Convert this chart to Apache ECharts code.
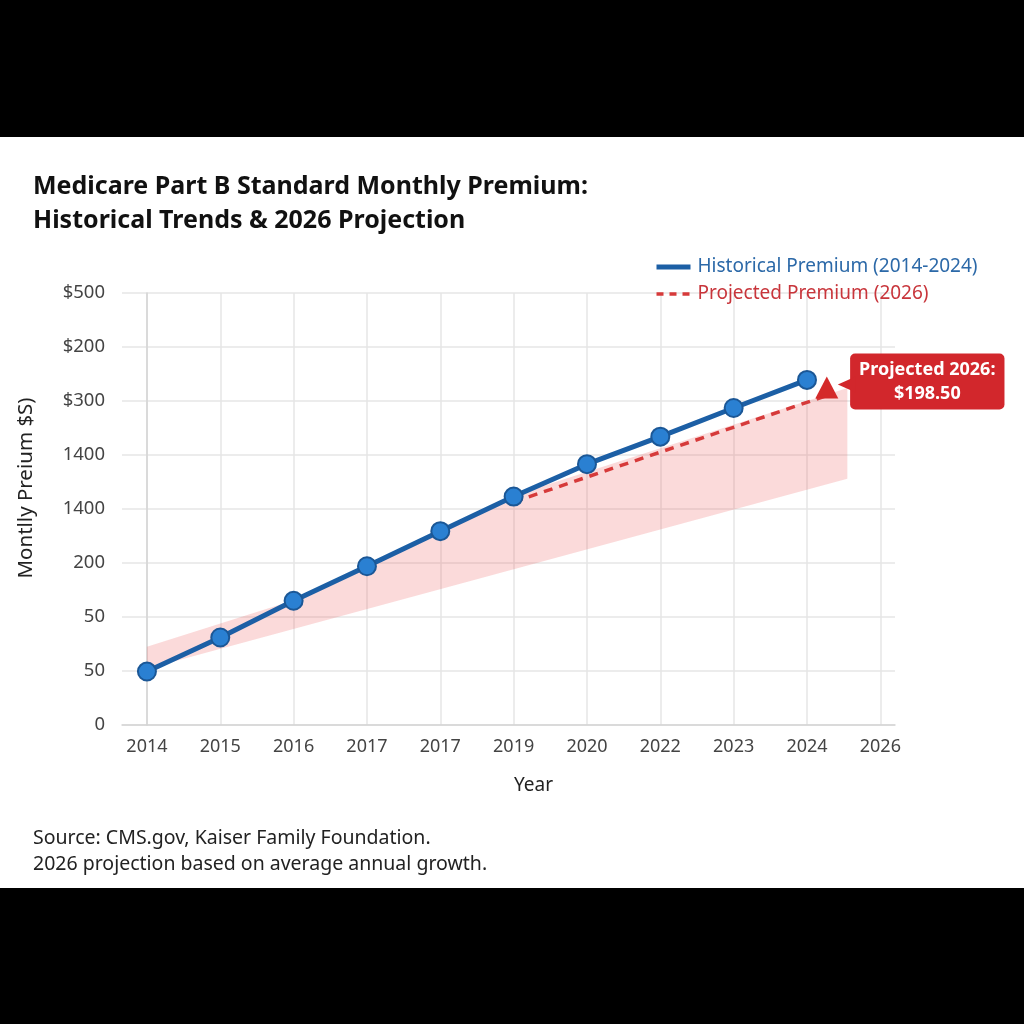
<!DOCTYPE html>
<html>
<head>
<meta charset="utf-8">
<script src="https://cdn.jsdelivr.net/npm/echarts@6/dist/echarts.min.js"></script>
<style>
  html, body { margin: 0; padding: 0; background: #000; }
  #chart { position: absolute; left: 0; top: 137px; width: 1024px; height: 751px; background: #fff; }
</style>
</head>
<body>
<div id="chart"></div>
<script>
// tick labels, as printed on the chart
var years = ['2014', '2015', '2016', '2017', '2017', '2019', '2020', '2022', '2023', '2024', '2026'];
var yLabels = ['0', '50', '50', '200', '1400', '1400', '$300', '$200', '$500'];

// values in gridline units (one unit = one y gridline), x = year slot
var historical = [[0, 0.99], [1, 1.62], [2, 2.30], [3, 2.94], [4, 3.59], [5, 4.23], [6, 4.83], [7, 5.34], [8, 5.87], [9, 6.39]];
var projected = [[5, 4.13], [9.27, 6.1]];
var projectedPoint = [[9.27, 6.25]];
var bandUpper = [[0, 1.45], [2.1, 2.35], [3, 2.94], [4, 3.59], [5, 4.25], [9.55, 6.24]];
var bandLower = [[0, 1.04], [9.55, 4.56]];

var tickIdx = years.map(function (y, i) { return i; });

var myChart = echarts.init(document.getElementById('chart'));

myChart.setOption({
	backgroundColor: '#fff',
	textStyle: { fontFamily: 'Noto Sans' },
	title: [{
		text: 'Medicare Part B Standard Monthly Premium:\nHistorical Trends & 2026 Projection',
		left: 28,
		top: 28,
		textStyle: { fontFamily: 'Noto Sans', fontWeight: 'bold', fontSize: 25, lineHeight: 34, color: '#111' }
	}, {
		text: 'Source: CMS.gov, Kaiser Family Foundation.\n2026 projection based on average annual growth.',
		left: 28,
		top: 683,
		textStyle: { fontFamily: 'Noto Sans', fontWeight: 'normal', fontSize: 19.5, lineHeight: 26, color: '#222' }
	}],
	legend: {
		orient: 'vertical',
		left: 654,
		top: 120,
		padding: 0,
		itemWidth: 34,
		itemHeight: 14,
		itemGap: 7,
		itemStyle: { color: 'rgba(0,0,0,0)', borderWidth: 0 },
		textStyle: { fontSize: 19, lineHeight: 20, padding: [0, 0, 0, 2] },
		data: [
			{ name: 'Historical Premium (2014-2024)', textStyle: { color: '#2c69a8' }, lineStyle: { width: 5 } },
			{ name: 'Projected Premium (2026)', textStyle: { color: '#c8353b' }, lineStyle: { width: 3.5, type: [7, 6] } }
		]
	},
	grid: { left: 122, right: 129, top: 156, bottom: 163 },
	xAxis: {
		type: 'value',
		min: -0.34,
		max: 10.2,
		name: 'Year',
		nameLocation: 'middle',
		nameGap: 51,
		nameTextStyle: { fontSize: 19, color: '#222', padding: [0, 0, 0, 50] },
		axisLine: { show: true, lineStyle: { color: '#d4d4d4', width: 1.5 } },
		axisTick: { show: false, customValues: tickIdx },
		axisLabel: {
			customValues: tickIdx,
			formatter: function (v) { return years[v]; },
			fontSize: 18,
			color: '#444',
			margin: 13
		},
		splitLine: { show: true, lineStyle: { color: '#e6e6e6', width: 1.5 } }
	},
	yAxis: {
		type: 'value',
		min: 0,
		max: 8,
		interval: 1,
		name: 'Montlly Preium $S)',
		nameLocation: 'middle',
		nameGap: 85,
		nameTextStyle: { fontSize: 20.5, color: '#222', padding: [0, 0, 0, 42] },
		axisLine: { show: true, lineStyle: { color: '#d4d4d4', width: 1.5 } },
		axisTick: { show: false },
		axisLabel: {
			formatter: function (v) { return yLabels[v]; },
			fontSize: 18.5,
			color: '#444',
			margin: 17
		},
		splitLine: { show: true, lineStyle: { color: '#e6e6e6', width: 1.5 } }
	},
	series: [{
		type: 'custom',
		name: 'band',
		z: 1,
		silent: true,
		data: [0],
		renderItem: function (params, api) {
			if (params.dataIndex !== 0) return null;
			var pts = bandUpper.map(function (p) { return api.coord(p); });
			bandLower.slice().reverse().forEach(function (p) { pts.push(api.coord(p)); });
			return {
				type: 'polygon',
				shape: { points: pts },
				style: { fill: 'rgba(238,100,100,0.24)' }
			};
		}
	}, {
		type: 'line',
		name: 'Projected Premium (2026)',
		z: 2,
		data: projected,
		symbol: 'none',
		lineStyle: { color: '#d63a3a', width: 3.5, type: [9, 7] },
		itemStyle: { color: '#d63a3a' }
	}, {
		type: 'line',
		name: 'Historical Premium (2014-2024)',
		z: 3,
		data: historical,
		symbol: 'circle',
		symbolSize: 18,
		lineStyle: { color: '#1c5fa5', width: 5 },
		itemStyle: { color: '#2a80d2', borderColor: '#1b5796', borderWidth: 2 }
	}, {
		type: 'scatter',
		name: 'proj-point',
		z: 4,
		data: projectedPoint,
		symbol: 'triangle',
		symbolSize: [23, 22],
		itemStyle: { color: '#d42a2a', opacity: 1 },
		label: {
			show: true,
			position: 'right',
			distance: 89,
			offset: [0, -6],
			formatter: 'Projected 2026:\n$198.50',
			backgroundColor: '#d2272c',
			borderRadius: 5,
			padding: [4, 9],
			color: '#fff',
			fontWeight: 'bold',
			fontSize: 18,
			lineHeight: 24,
			align: 'center'
		},
		markPoint: {
			silent: true,
			symbol: 'triangle',
			symbolRotate: 90,
			symbolSize: [16, 18],
			symbolOffset: [20, -3],
			itemStyle: { color: '#d2272c' },
			label: { show: false },
			data: [{ coord: projectedPoint[0] }]
		}
	}]
});
window.addEventListener('resize', function () {
	myChart.resize();
});
</script>
</body>
</html>
